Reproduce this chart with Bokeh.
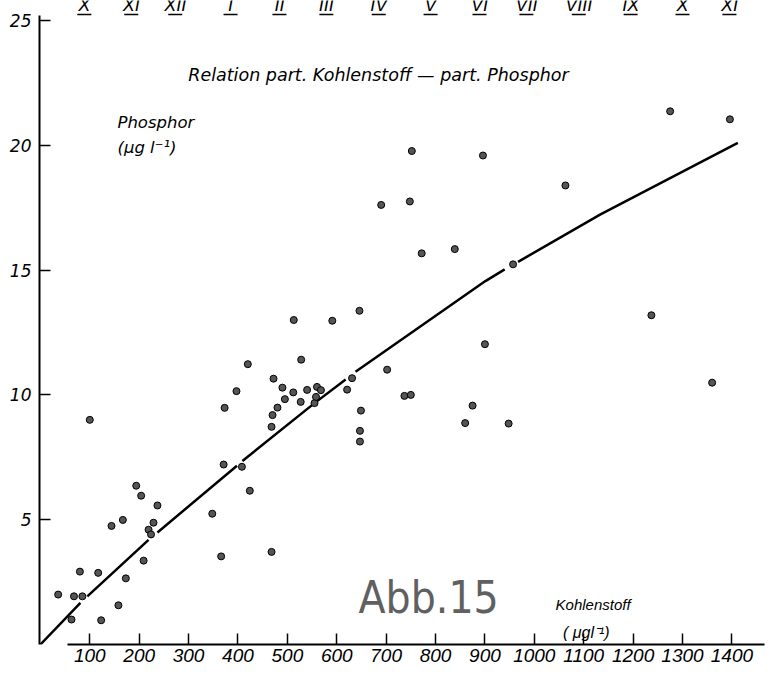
from bokeh.plotting import figure
from bokeh.models import Range1d, FixedTicker, Label
from bokeh.core.properties import value
from bokeh.embed import file_html
from bokeh.resources import INLINE

# --- data ---
carbon = [36, 63, 68, 80, 85, 100, 117, 123, 144, 158, 167, 173, 194, 204, 209, 219, 224, 229, 237,
          348, 366, 371, 373, 397, 408, 420, 424, 468, 468, 470, 472, 480, 490, 495, 512, 513, 527,
          528, 540, 555, 558, 560, 568, 591, 621, 631, 646, 647, 647, 649, 690, 702, 737, 748, 750,
          752, 772, 839, 860, 875, 896, 900, 948, 957, 1063, 1237, 1275, 1360, 1396]
phosphor = [2.0, 1.0, 1.93, 2.92, 1.93, 9.0, 2.87, 0.97, 4.75, 1.57, 4.99, 2.65, 6.36, 5.96, 3.36, 4.6,
            4.41, 4.88, 5.57, 5.24, 3.53, 7.21, 9.48, 10.15, 7.12, 11.23, 6.16, 3.71, 8.72, 9.19, 10.65,
            9.49, 10.29, 9.83, 10.1, 13.0, 9.72, 11.41, 10.2, 9.67, 9.92, 10.32, 10.19, 12.97, 10.21,
            10.67, 13.37, 8.56, 8.13, 9.37, 17.61, 11.01, 9.96, 17.75, 10.0, 19.77, 15.67, 15.84, 8.87,
            9.57, 19.59, 12.03, 8.85, 15.23, 18.39, 13.19, 21.36, 10.49, 21.04]

nan = float("nan")
curve_x = [0, 81, nan, 95, 219, nan, 237, 398, nan, 409, 555, 618, nan, 638, 901, 940, nan, 967, 1134, 1412]
curve_y = [0, 1.67, nan, 1.93, 4.19, nan, 4.49, 7.16, nan, 7.35, 9.67, 10.62, nan, 10.93, 14.56, 15.03, nan, 15.33, 17.23, 20.1]

x_ticks = [100, 200, 300, 400, 500, 600, 700, 800, 900, 1000, 1100, 1200, 1300, 1400]
y_ticks = [5, 10, 15, 20, 25]

months = ["X", "XI", "XII", "I", "II", "III", "IV", "V", "VI", "VII", "VIII", "IX", "X", "XI"]
month_x = [89, 184, 273, 385, 484, 579, 685, 790, 889, 984, 1090, 1195, 1300, 1395]

p = figure(width=771, height=674, x_range=Range1d(-1.8, 1480.2), y_range=Range1d(0, 25.8),
           output_backend="svg", toolbar_location=None,
           min_border_left=39, min_border_right=0, min_border_top=0, min_border_bottom=30)
p.grid.visible = False
p.outline_line_color = None
p.background_fill_color = "white"

xa = p.xaxis[0]
xa.ticker = FixedTicker(ticks=x_ticks)
xa.bounds = (54, 1466)
xa.axis_line_width = 2
xa.major_tick_in = 11
xa.major_tick_out = 0
xa.major_tick_line_width = 1.5
xa.minor_tick_line_color = None
xa.major_label_standoff = 4
xa.major_label_text_font = "Liberation Sans"
xa.major_label_text_font_style = "italic"
xa.major_label_text_font_size = "19px"
xa.major_label_text_color = "black"

ya = p.yaxis[0]
ya.ticker = FixedTicker(ticks=y_ticks)
ya.bounds = (0, 25.2)
ya.axis_line_width = 2
ya.major_tick_in = 11
ya.major_tick_out = 0
ya.major_tick_line_width = 1.5
ya.minor_tick_line_color = None
ya.major_label_standoff = 8
ya.major_label_text_font = "DejaVu Sans"
ya.major_label_text_font_style = "italic"
ya.major_label_text_font_size = "17px"
ya.major_label_text_color = "black"

# regression curve
p.line(curve_x, curve_y, line_color="black", line_width=2.5)

# points
p.scatter(carbon, phosphor, size=7, fill_color="#555555", line_color="black", line_width=1)

# month labels of the chart above (cut off at the top edge)
p.text(x=month_x, y=[25.6] * len(months), text=months, text_align="center", text_baseline="middle",
       text_font=value("Liberation Sans"), text_font_style="italic", text_font_size="18px", text_color="black")
p.scatter(month_x, [25.24] * len(months), marker="dash", size=14, line_color="black", line_width=1.5)

def lab(x, y, t, size, font="DejaVu Sans", style="italic", align="left", base="middle", color="black"):
    p.add_layout(Label(x=x, y=y, text=t, text_font=font, text_font_style=style, text_font_size=size,
                       text_align=align, text_baseline=base, text_color=color))

lab(684.5, 22.8, "Relation part. Kohlenstoff \u2014 part. Phosphor", "17.5px", align="center")
lab(156, 20.91, "Phosphor", "16.5px")
lab(156, 19.91, "(\u03bcg l\u207b\u00b9)", "16.5px")
lab(1043, 1.6, "Kohlenstoff", "15px", font="Liberation Sans")
lab(1058, 0.48, "( \u03bcgl\u207b\u00b9)", "16px", font="Liberation Sans")
lab(786, 1.88, "Abb.15", "44px", font="DejaVu Sans Condensed, Roboto", style="normal", align="center",
    color="#606060")

open("out.html", "w").write(file_html(p, INLINE))
